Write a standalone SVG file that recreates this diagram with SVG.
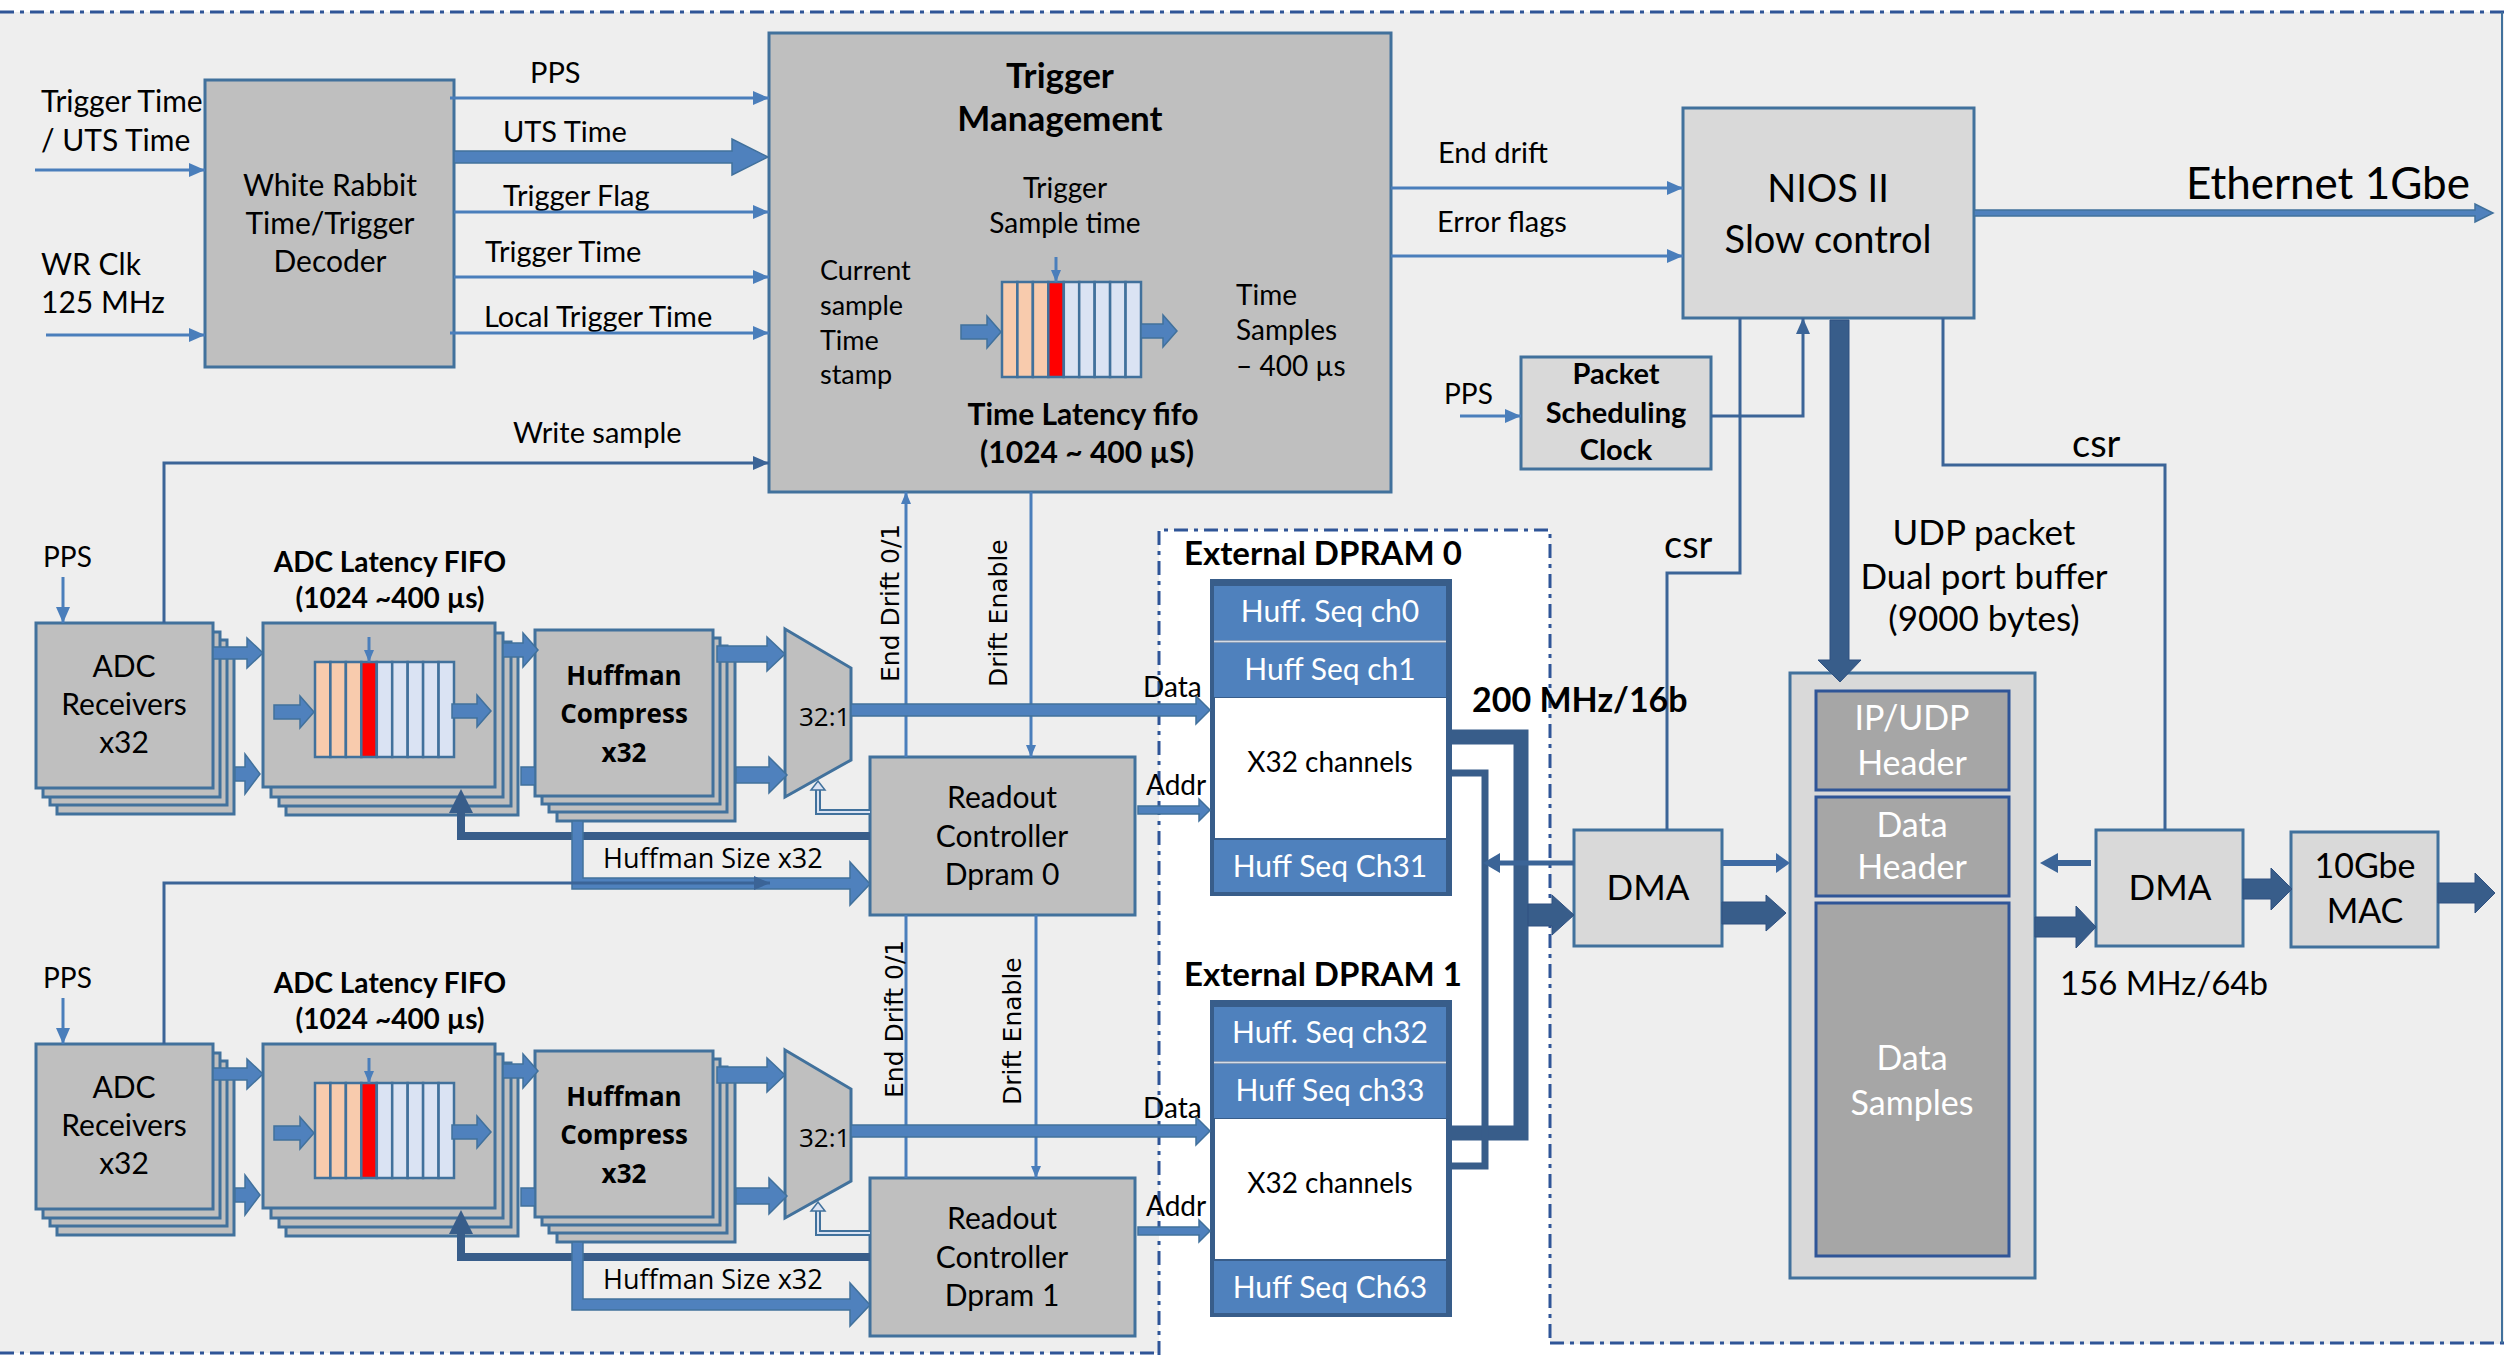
<svg xmlns="http://www.w3.org/2000/svg" width="2504" height="1355" viewBox="0 0 2504 1355">
<style>
 .box{fill:#bfbfbf;stroke:#41719c;stroke-width:3}
 .box2{fill:#d9d9d9;stroke:#41719c;stroke-width:3}
 .box3{fill:#a6a6a6;stroke:#2f5597;stroke-width:3}
 .w{fill:none;stroke:#4a7ebb;stroke-width:3}
 .wd{fill:none;stroke:#3b6497;stroke-width:3}
 .blk{fill:#4f81bd;stroke:#41719c;stroke-width:1.5}
 .blkd{fill:#385d8a;stroke:#2f5080;stroke-width:1}
 .bus{fill:none;stroke:#385d8a}
 .dash{fill:none;stroke:#2f5597;stroke-width:3;stroke-dasharray:14 6 4 6}
 text{font-family:Lato,"Liberation Sans",sans-serif;fill:#000}
 .c{text-anchor:middle}
 .b{font-weight:700}
 .os{font-family:"Open Sans","Liberation Sans",sans-serif}
 .dv{font-family:"DejaVu Sans","Liberation Sans",sans-serif}
 .wt{fill:#fff}
 .peach{fill:#f8cbad;stroke:#41719c;stroke-width:2.5}
 .red{fill:#ff0000;stroke:#41719c;stroke-width:2.5}
 .pale{fill:#dae3f3;stroke:#41719c;stroke-width:2.5}
 .row{fill:#4f81bd}
</style>
<defs>
 <marker id="ah" markerUnits="userSpaceOnUse" markerWidth="16" markerHeight="14" refX="16" refY="7" orient="auto"><path d="M0,0 L16,7 L0,14 z" fill="#4a7ebb"/></marker>
 <marker id="ahd" markerUnits="userSpaceOnUse" markerWidth="16" markerHeight="14" refX="16" refY="7" orient="auto"><path d="M0,0 L16,7 L0,14 z" fill="#3b6497"/></marker>
 <marker id="ahs" markerUnits="userSpaceOnUse" markerWidth="12" markerHeight="10" refX="12" refY="5" orient="auto"><path d="M0,0 L12,5 L0,10 z" fill="#4a7ebb"/></marker>
 <!-- 9-cell latency fifo strip, origin at top-left -->
 <g id="fifo-cells">
  <rect class="peach" x="0" y="0" width="15.4" height="95"/>
  <rect class="peach" x="15.4" y="0" width="15.4" height="95"/>
  <rect class="peach" x="30.9" y="0" width="15.4" height="95"/>
  <rect class="red" x="46.3" y="0" width="15.4" height="95"/>
  <rect class="pale" x="61.8" y="0" width="15.4" height="95"/>
  <rect class="pale" x="77.2" y="0" width="15.4" height="95"/>
  <rect class="pale" x="92.7" y="0" width="15.4" height="95"/>
  <rect class="pale" x="108.1" y="0" width="15.4" height="95"/>
  <rect class="pale" x="123.6" y="0" width="15.4" height="95"/>
 </g>
</defs>

<!-- board background and borders -->
<rect x="0" y="0" width="2504" height="1355" fill="#ffffff"/>
<rect x="0" y="12" width="2504" height="1341" fill="#eeeeee"/>
<rect x="1550" y="1344" width="954" height="11" fill="#ffffff"/>
<line class="dash" x1="0" y1="12" x2="2504" y2="12"/>
<line class="dash" x1="0" y1="1353" x2="1159" y2="1353"/>
<line class="dash" x1="1550" y1="1343" x2="2504" y2="1343"/>
<line x1="2502" y1="12" x2="2502" y2="1343" stroke="#41719c" stroke-width="2"/>

<!-- external DPRAM area -->
<rect x="1159" y="530" width="391" height="830" fill="#ffffff"/>
<path class="dash" d="M1159,1355 V530 H1550 V1343"/>

<!-- ===== top row ===== -->
<g id="wr-decoder">
 <rect class="box" x="205" y="80" width="249" height="287"/>
 <text class="c" x="330" y="196" font-size="30">White Rabbit</text>
 <text class="c" x="330" y="234" font-size="30">Time/Trigger</text>
 <text class="c" x="330" y="272" font-size="30">Decoder</text>
</g>

<g id="trigger-mgmt">
 <rect class="box" x="769" y="33" width="622" height="459"/>
 <text class="c b" x="1060" y="88" font-size="35">Trigger</text>
 <text class="c b" x="1060" y="131" font-size="35">Management</text>
 <text class="c" x="1065" y="198" font-size="28">Trigger</text>
 <text class="c" x="1065" y="233" font-size="28">Sample time</text>
 <text x="820" y="280" font-size="27">Current</text>
 <text x="820" y="315" font-size="27">sample</text>
 <text x="820" y="350" font-size="27">Time</text>
 <text x="820" y="384" font-size="27">stamp</text>
 <text x="1236" y="305" font-size="28">Time</text>
 <text x="1236" y="340" font-size="28">Samples</text>
 <text x="1236" y="376" font-size="28">– 400 µs</text>
 <use href="#fifo-cells" x="1002" y="282"/>
 <line class="w" x1="1056" y1="257" x2="1056" y2="282" marker-end="url(#ahs)"/>
 <polygon class="blk" points="961,325 987,325 987,316 1001,332 987,348 987,339 961,339"/>
 <polygon class="blk" points="1141,324 1163,324 1163,315 1177,331 1163,347 1163,338 1141,338"/>
 <text class="c b" x="1083" y="425" font-size="30">Time Latency fifo</text>
 <text class="c b" x="1087" y="463" font-size="30">(1024 ~ 400 µS)</text>
</g>

<g id="nios">
 <rect class="box2" x="1683" y="108" width="291" height="210"/>
 <text class="c" x="1828" y="202" font-size="38">NIOS II</text>
 <text class="c" x="1828" y="253" font-size="38">Slow control</text>
</g>

<g id="pkt-sched-clock">
 <rect class="box2" x="1521" y="357" width="190" height="112"/>
 <text class="c b" x="1616" y="384" font-size="29">Packet</text>
 <text class="c b" x="1616" y="423" font-size="29">Scheduling</text>
 <text class="c b" x="1616" y="460" font-size="29">Clock</text>
</g>

<!-- ===== ADC chain 0 ===== -->
<g id="adc-rx-0">
 <rect class="box" x="57" y="649" width="177" height="165"/>
 <rect class="box" x="50" y="640" width="177" height="165"/>
 <rect class="box" x="43" y="632" width="177" height="165"/>
 <rect class="box" x="36" y="623" width="177" height="165"/>
 <text class="c" x="124" y="677" font-size="30">ADC</text>
 <text class="c" x="124" y="715" font-size="30">Receivers</text>
 <text class="c" x="124" y="753" font-size="30">x32</text>
</g>
<g id="adc-fifo-0">
 <text class="c b" x="390" y="572" font-size="28">ADC Latency FIFO</text>
 <text class="c b" x="390" y="608" font-size="28">(1024 ~400 µs)</text>
 <rect class="box" x="286" y="651" width="232" height="164"/>
 <rect class="box" x="279" y="642" width="232" height="164"/>
 <rect class="box" x="271" y="633" width="232" height="164"/>
 <rect class="box" x="263" y="623" width="232" height="164"/>
 <use href="#fifo-cells" x="315" y="662"/>
 <line class="w" x1="369" y1="637" x2="369" y2="662" marker-end="url(#ahs)"/>
 <polygon class="blk" points="274,705 300,705 300,696 314,712 300,728 300,719 274,719"/>
 <polygon class="blk" points="452,704 477,704 477,695 491,711 477,727 477,718 452,718"/>
</g>
<g id="huffman-0">
 <rect class="box" x="557" y="655" width="178" height="166"/>
 <rect class="box" x="549" y="646" width="178" height="166"/>
 <rect class="box" x="542" y="638" width="178" height="166"/>
 <rect class="box" x="535" y="630" width="178" height="166"/>
 <text class="c b os" x="624" y="685" font-size="26">Huffman</text>
 <text class="c b os" x="624" y="723" font-size="26">Compress</text>
 <text class="c b os" x="624" y="762" font-size="26">x32</text>
</g>
<g id="mux-0">
 <polygon class="box" points="785,629 851,668 851,760 785,797"/>
 <text class="os" x="799" y="726" font-size="26">32:1</text>
</g>
<g id="readout-0">
 <rect class="box" x="870" y="757" width="265" height="158"/>
 <text class="c" x="1002" y="808" font-size="30">Readout</text>
 <text class="c" x="1002" y="847" font-size="30">Controller</text>
 <text class="c" x="1002" y="885" font-size="30">Dpram 0</text>
</g>

<!-- ===== ADC chain 1 ===== -->
<g id="adc-rx-1" transform="translate(0,421)">
 <rect class="box" x="57" y="649" width="177" height="165"/>
 <rect class="box" x="50" y="640" width="177" height="165"/>
 <rect class="box" x="43" y="632" width="177" height="165"/>
 <rect class="box" x="36" y="623" width="177" height="165"/>
 <text class="c" x="124" y="677" font-size="30">ADC</text>
 <text class="c" x="124" y="715" font-size="30">Receivers</text>
 <text class="c" x="124" y="753" font-size="30">x32</text>
</g>
<g id="adc-fifo-1" transform="translate(0,421)">
 <text class="c b" x="390" y="572" font-size="28">ADC Latency FIFO</text>
 <text class="c b" x="390" y="608" font-size="28">(1024 ~400 µs)</text>
 <rect class="box" x="286" y="651" width="232" height="164"/>
 <rect class="box" x="279" y="642" width="232" height="164"/>
 <rect class="box" x="271" y="633" width="232" height="164"/>
 <rect class="box" x="263" y="623" width="232" height="164"/>
 <use href="#fifo-cells" x="315" y="662"/>
 <line class="w" x1="369" y1="637" x2="369" y2="662" marker-end="url(#ahs)"/>
 <polygon class="blk" points="274,705 300,705 300,696 314,712 300,728 300,719 274,719"/>
 <polygon class="blk" points="452,704 477,704 477,695 491,711 477,727 477,718 452,718"/>
</g>
<g id="huffman-1" transform="translate(0,421)">
 <rect class="box" x="557" y="655" width="178" height="166"/>
 <rect class="box" x="549" y="646" width="178" height="166"/>
 <rect class="box" x="542" y="638" width="178" height="166"/>
 <rect class="box" x="535" y="630" width="178" height="166"/>
 <text class="c b os" x="624" y="685" font-size="26">Huffman</text>
 <text class="c b os" x="624" y="723" font-size="26">Compress</text>
 <text class="c b os" x="624" y="762" font-size="26">x32</text>
</g>
<g id="mux-1" transform="translate(0,421)">
 <polygon class="box" points="785,629 851,668 851,760 785,797"/>
 <text class="os" x="799" y="726" font-size="26">32:1</text>
</g>
<g id="readout-1" transform="translate(0,421)">
 <rect class="box" x="870" y="757" width="265" height="158"/>
 <text class="c" x="1002" y="808" font-size="30">Readout</text>
 <text class="c" x="1002" y="847" font-size="30">Controller</text>
 <text class="c" x="1002" y="885" font-size="30">Dpram 1</text>
</g>

<!-- ===== external DPRAMs ===== -->
<g id="dpram-0">
 <text class="b" x="1184" y="565" font-size="33">External DPRAM 0</text>
 <rect x="1210" y="579" width="242" height="317" fill="#385d8a"/>
 <rect class="row" x="1214" y="586" width="232" height="54"/>
 <line x1="1214" y1="641.5" x2="1446" y2="641.5" stroke="#d6dce5" stroke-width="2"/>
 <rect class="row" x="1214" y="643" width="232" height="54"/>
 <rect x="1215" y="698" width="231" height="140" fill="#ffffff"/>
 <rect class="row" x="1214" y="840" width="232" height="52"/>
 <text class="c wt" x="1330" y="622" font-size="30">Huff. Seq ch0</text>
 <text class="c wt" x="1330" y="680" font-size="30">Huff Seq ch1</text>
 <text class="c" x="1330" y="772" font-size="28">X32 channels</text>
 <text class="c wt" x="1330" y="877" font-size="30">Huff Seq Ch31</text>
</g>
<g id="dpram-1" transform="translate(0,421)">
 <text class="b" x="1184" y="565" font-size="33">External DPRAM 1</text>
 <rect x="1210" y="579" width="242" height="317" fill="#385d8a"/>
 <rect class="row" x="1214" y="586" width="232" height="54"/>
 <line x1="1214" y1="641.5" x2="1446" y2="641.5" stroke="#d6dce5" stroke-width="2"/>
 <rect class="row" x="1214" y="643" width="232" height="54"/>
 <rect x="1215" y="698" width="231" height="140" fill="#ffffff"/>
 <rect class="row" x="1214" y="840" width="232" height="52"/>
 <text class="c wt" x="1330" y="622" font-size="30">Huff. Seq ch32</text>
 <text class="c wt" x="1330" y="680" font-size="30">Huff Seq ch33</text>
 <text class="c" x="1330" y="772" font-size="28">X32 channels</text>
 <text class="c wt" x="1330" y="877" font-size="30">Huff Seq Ch63</text>
</g>

<!-- ===== packet path ===== -->
<g id="dma-in">
 <rect class="box2" x="1574" y="830" width="148" height="116"/>
 <text class="c" x="1648" y="900" font-size="35">DMA</text>
</g>
<g id="udp-buffer">
 <text class="c" x="1984" y="545" font-size="35">UDP packet</text>
 <text class="c" x="1984" y="589" font-size="35">Dual port buffer</text>
 <text class="c" x="1984" y="631" font-size="35">(9000 bytes)</text>
 <rect class="box2" x="1790" y="673" width="245" height="605"/>
 <rect class="box3" x="1816" y="691" width="193" height="99"/>
 <rect class="box3" x="1816" y="797" width="193" height="99"/>
 <rect class="box3" x="1816" y="903" width="193" height="353"/>
 <text class="c wt" x="1912" y="730" font-size="34">IP/UDP</text>
 <text class="c wt" x="1912" y="775" font-size="34">Header</text>
 <text class="c wt" x="1912" y="837" font-size="34">Data</text>
 <text class="c wt" x="1912" y="879" font-size="34">Header</text>
 <text class="c wt" x="1912" y="1070" font-size="34">Data</text>
 <text class="c wt" x="1912" y="1115" font-size="34">Samples</text>
</g>
<g id="dma-out">
 <rect class="box2" x="2096" y="830" width="147" height="116"/>
 <text class="c" x="2170" y="900" font-size="35">DMA</text>
</g>
<g id="mac-10g">
 <rect class="box2" x="2291" y="832" width="147" height="115"/>
 <text class="c" x="2365" y="878" font-size="34">10Gbe</text>
 <text class="c" x="2365" y="923" font-size="34">MAC</text>
</g>

<!-- ===== connectors ===== -->
<g id="connectors">
 <!-- timing inputs -->
 <text x="41" y="112" font-size="30">Trigger Time</text>
 <text x="41" y="151" font-size="30">/ UTS Time</text>
 <line class="w" x1="35" y1="170" x2="205" y2="170" marker-end="url(#ah)"/>
 <text x="41" y="275" font-size="30">WR Clk</text>
 <text x="41" y="313" font-size="30">125 MHz</text>
 <line class="w" x1="46" y1="335" x2="205" y2="335" marker-end="url(#ah)"/>

 <!-- decoder to trigger management -->
 <text x="530" y="83" font-size="29">PPS</text>
 <line class="w" x1="450" y1="98" x2="769" y2="98" marker-end="url(#ah)"/>
 <text x="503" y="142" font-size="29">UTS Time</text>
 <polygon class="blk" points="454,151 732,151 732,139 768,157 732,175 732,163 454,163"/>
 <text x="503" y="206" font-size="29">Trigger Flag</text>
 <line class="w" x1="454" y1="212" x2="769" y2="212" marker-end="url(#ah)"/>
 <text x="485" y="262" font-size="29">Trigger Time</text>
 <line class="w" x1="454" y1="277" x2="769" y2="277" marker-end="url(#ah)"/>
 <text x="484" y="327" font-size="29">Local Trigger Time</text>
 <line class="w" x1="450" y1="333" x2="769" y2="333" marker-end="url(#ah)"/>
 <text x="513" y="443" font-size="29">Write sample</text>
 <path class="wd" d="M164,623 V463 H769" marker-end="url(#ahd)"/>

 <!-- trigger management to NIOS -->
 <text x="1438" y="163" font-size="29">End drift</text>
 <line class="w" x1="1391" y1="188" x2="1683" y2="188" marker-end="url(#ah)"/>
 <text x="1437" y="232" font-size="29">Error flags</text>
 <line class="w" x1="1391" y1="256" x2="1683" y2="256" marker-end="url(#ah)"/>

 <!-- NIOS outputs -->
 <polygon class="blk" points="1974,210 2475,210 2475,204 2493,213 2475,222 2475,216 1974,216"/>
 <text x="2470" y="199" font-size="44" text-anchor="end">Ethernet 1Gbe</text>
 <text x="1444" y="404" font-size="28">PPS</text>
 <line class="w" x1="1460" y1="416" x2="1521" y2="416" marker-end="url(#ah)"/>
 <path class="wd" d="M1711,416 H1803 V318" marker-end="url(#ahd)"/>
 <path class="wd" d="M1740,318 V573 H1667 V830"/>
 <text x="1664" y="558" font-size="38">csr</text>
 <path class="wd" d="M1943,318 V465 H2165 V830"/>
 <text x="2072" y="457" font-size="38">csr</text>
 <polygon class="blkd" points="1830,320 1849,320 1849,660 1861,660 1840,682 1818,660 1830,660"/>

 <!-- drift control between trigger management and readout controllers -->
 <line class="w" x1="906" y1="757" x2="906" y2="492" marker-end="url(#ahs)"/>
 <line class="w" x1="1031" y1="492" x2="1031" y2="757" marker-end="url(#ahs)"/>
 <line class="w" x1="906" y1="1178" x2="906" y2="915"/>
 <line class="w" x1="1036" y1="915" x2="1036" y2="1178" marker-end="url(#ahs)"/>
 <text class="dv" transform="translate(899,682) rotate(-90)" font-size="25">End Drift 0/1</text>
 <text class="dv" transform="translate(1007,687) rotate(-90)" font-size="25">Drift Enable</text>
 <text class="dv" transform="translate(903,1098) rotate(-90)" font-size="25">End Drift 0/1</text>
 <text class="dv" transform="translate(1021,1105) rotate(-90)" font-size="25">Drift Enable</text>

 <!-- chain 0 datapath -->
 <g id="chain-links-0">
  <text x="43" y="567" font-size="28">PPS</text>
  <line class="w" x1="63" y1="577" x2="63" y2="623" marker-end="url(#ah)"/>
  <polygon class="blk" points="213,647 247,647 247,638 263,653 247,668 247,659 213,659"/>
  <polygon class="blk" points="235,767 245,767 245,754 260,774 245,794 245,781 235,781"/>
  <polygon class="blk" points="503,643 523,643 523,633 538,650 523,667 523,657 503,657"/>
  <rect class="blk" x="521" y="767" width="14" height="18"/>
  <polygon class="blk" points="717,646 767,646 767,637 785,654 767,671 767,662 717,662"/>
  <polygon class="blk" points="736,767 769,767 769,757 787,775 769,793 769,783 736,783"/>
  <polygon class="blk" points="851,704 1196,704 1196,696 1210,710 1196,724 1196,716 851,716"/>
  <polygon class="blk" points="1138,806 1199,806 1199,799 1210,810 1199,821 1199,814 1138,814"/>
  <text x="1143" y="697" font-size="28">Data</text>
  <text x="1146" y="795" font-size="28">Addr</text>
  <path d="M870,812 H818 V790" fill="none" stroke="#41719c" stroke-width="6"/>
  <path d="M870,812 H818 V790" fill="none" stroke="#dae3f3" stroke-width="2"/>
  <polygon points="811,790 818,781 825,790" fill="#dae3f3" stroke="#41719c" stroke-width="1.5"/>
  <path class="bus" d="M870,836 H461 V810" stroke-width="8"/>
  <polygon points="449,813 461,789 473,813" fill="#385d8a"/>
  <polygon class="blk" points="572,821 583,821 583,878 850,878 850,862 870,884 850,905 850,889 572,889"/>
  <text class="os" x="603" y="868" font-size="27">Huffman Size x32</text>
 </g>

 <!-- chain 1 datapath -->
 <g id="chain-links-1" transform="translate(0,421)">
  <text x="43" y="567" font-size="28">PPS</text>
  <line class="w" x1="63" y1="577" x2="63" y2="623" marker-end="url(#ah)"/>
  <polygon class="blk" points="213,647 247,647 247,638 263,653 247,668 247,659 213,659"/>
  <polygon class="blk" points="235,767 245,767 245,754 260,774 245,794 245,781 235,781"/>
  <polygon class="blk" points="503,643 523,643 523,633 538,650 523,667 523,657 503,657"/>
  <rect class="blk" x="521" y="767" width="14" height="18"/>
  <polygon class="blk" points="717,646 767,646 767,637 785,654 767,671 767,662 717,662"/>
  <polygon class="blk" points="736,767 769,767 769,757 787,775 769,793 769,783 736,783"/>
  <polygon class="blk" points="851,704 1196,704 1196,696 1210,710 1196,724 1196,716 851,716"/>
  <polygon class="blk" points="1138,806 1199,806 1199,799 1210,810 1199,821 1199,814 1138,814"/>
  <text x="1143" y="697" font-size="28">Data</text>
  <text x="1146" y="795" font-size="28">Addr</text>
  <path d="M870,812 H818 V790" fill="none" stroke="#41719c" stroke-width="6"/>
  <path d="M870,812 H818 V790" fill="none" stroke="#dae3f3" stroke-width="2"/>
  <polygon points="811,790 818,781 825,790" fill="#dae3f3" stroke="#41719c" stroke-width="1.5"/>
  <path class="bus" d="M870,836 H461 V810" stroke-width="8"/>
  <polygon points="449,813 461,789 473,813" fill="#385d8a"/>
  <polygon class="blk" points="572,821 583,821 583,878 850,878 850,862 870,884 850,905 850,889 572,889"/>
  <text class="os" x="603" y="868" font-size="27">Huffman Size x32</text>
 </g>
 <!-- write-sample strobe from chain 1 -->
 <path class="wd" d="M164,1044 V883 H770" marker-end="url(#ahd)"/>

 <!-- DPRAM read buses to input DMA -->
 <path class="bus" d="M1452,737 H1521 V1133 H1452" stroke-width="15"/>
 <path class="bus" d="M1452,773 H1485 V1166 H1452" stroke-width="7"/>
 <text class="b" x="1472" y="712" font-size="34">200 MHz/16b</text>
 <line x1="1574" y1="863" x2="1497" y2="863" stroke="#3b6497" stroke-width="5"/>
 <polygon points="1483,863 1500,853 1500,873" fill="#3b6497"/>
 <polygon class="blkd" points="1528,904 1552,904 1552,895 1574,915 1552,935 1552,926 1528,926"/>

 <!-- DMA / buffer / MAC -->
 <line x1="1722" y1="863" x2="1778" y2="863" stroke="#3e6aa3" stroke-width="6"/>
 <polygon points="1776,853 1790,863 1776,873" fill="#3e6aa3"/>
 <polygon class="blkd" points="1722,902 1766,902 1766,895 1786,913 1766,931 1766,924 1722,924"/>
 <line x1="2091" y1="863" x2="2055" y2="863" stroke="#3b6497" stroke-width="6"/>
 <polygon points="2040,863 2058,853 2058,873" fill="#3b6497"/>
 <polygon class="blkd" points="2035,917 2076,917 2076,906 2096,927 2076,948 2076,937 2035,937"/>
 <polygon class="blkd" points="2243,879 2271,879 2271,868 2292,889 2271,910 2271,899 2243,899"/>
 <polygon class="blkd" points="2438,883 2475,883 2475,873 2495,893 2475,913 2475,903 2438,903"/>
 <text x="2060" y="995" font-size="33">156 MHz/64b</text>
</g>
</svg>
